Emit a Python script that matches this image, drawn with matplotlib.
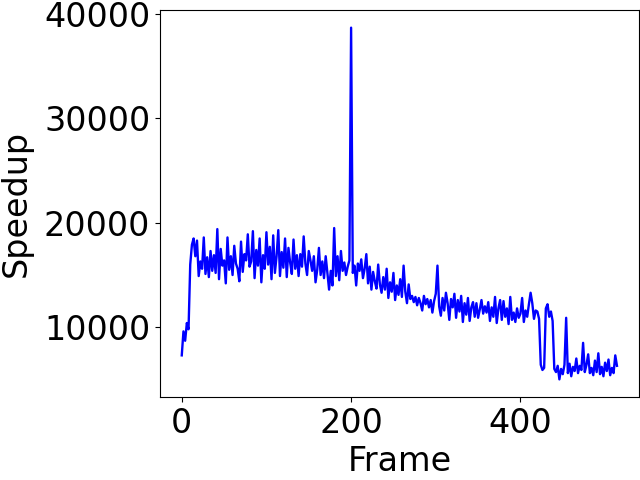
import numpy as np
import matplotlib.pyplot as plt

# speedup, one value every 2 frames
speedup = [
    7300, 9600, 8700, 10400, 9800, 16000, 17900, 18500, 16800, 18300,
    14900, 16300, 15600, 18600, 15100, 16700, 14800, 17300, 15400, 16900,
    15200, 19400, 14600, 17500, 15900, 16400, 14200, 18600, 15500, 16800,
    15000, 17800, 16100, 15600, 14400, 18200, 15300, 17000, 16400, 18900,
    15800, 16300, 19200, 14700, 17400, 15900, 18500, 14300, 16900, 15600,
    19100, 16000, 17700, 14600, 18800, 15200, 16800, 19300, 14900, 17200,
    15700, 18500, 14800, 17600, 16200, 15100, 18400, 15600, 16900, 14900,
    17000, 15800, 18700, 16100, 15000, 17300, 16400, 15400, 16800, 14300,
    15500, 17600, 15000, 16300, 14700, 16800, 15200, 13600, 15400, 14000,
    19500, 14900, 16800, 14500, 17300, 15400, 16200, 15000, 15800, 16400,
    38700, 15200, 15900, 14000, 16100, 15400, 16500, 14700, 15600, 17000,
    14200, 15800, 13600, 15300, 14400, 13700, 16000, 14100, 13300, 14800,
    13600, 15600, 12800, 14300, 13400, 15200, 12600, 14000, 13100, 14600,
    12900, 15900, 13400, 12300, 14100, 12700, 13000, 12400, 12900, 12100,
    12800, 12300, 11600, 13000, 12200, 12700, 11900, 12600, 11400, 12500,
    13200, 15900, 12000, 11100, 12800, 11600, 13300, 12300, 10700, 12700,
    11900, 13200, 10900, 12600, 11500, 13000, 10500, 12300, 11200, 12800,
    10600, 11900, 12400, 11000, 12300, 10900, 11700, 12600, 11300, 12000,
    11400, 12400, 10600, 11900, 11000, 12900, 10400, 11800, 12600, 10700,
    12500, 11000, 11800, 10300, 12900, 10700, 11400, 10500, 11800, 10900,
    11300, 12800, 10500, 11600, 11000, 12200, 13300, 12300, 10800, 11600,
    11500, 10800, 6400, 5900, 6100, 11800, 12200, 11000, 11500, 10600,
    6000, 5700, 6300, 5000, 6000, 5500, 6400, 10900, 5600, 6500,
    5300, 6200, 5800, 7000, 5600, 6300, 5900, 8500, 5700, 6400,
    7400, 5600, 6100, 5400, 6800, 5700, 7500, 5500, 6200, 5300,
    6600, 5800, 6900, 5400, 6100, 5600, 7300, 6300,
]
frame = np.arange(len(speedup)) * 2

plt.figure(figsize=(6.4, 4.8))
plt.plot(frame, speedup, color='blue', linewidth=1.7)
plt.xlabel('Frame', fontsize=24)
plt.ylabel('Speedup', fontsize=24, labelpad=8)
plt.xticks([0, 200, 400], fontsize=24)
plt.yticks([10000, 20000, 30000, 40000], fontsize=24)
plt.subplots_adjust(left=0.25, right=0.998, top=0.979, bottom=0.173)
plt.savefig('out.png')
